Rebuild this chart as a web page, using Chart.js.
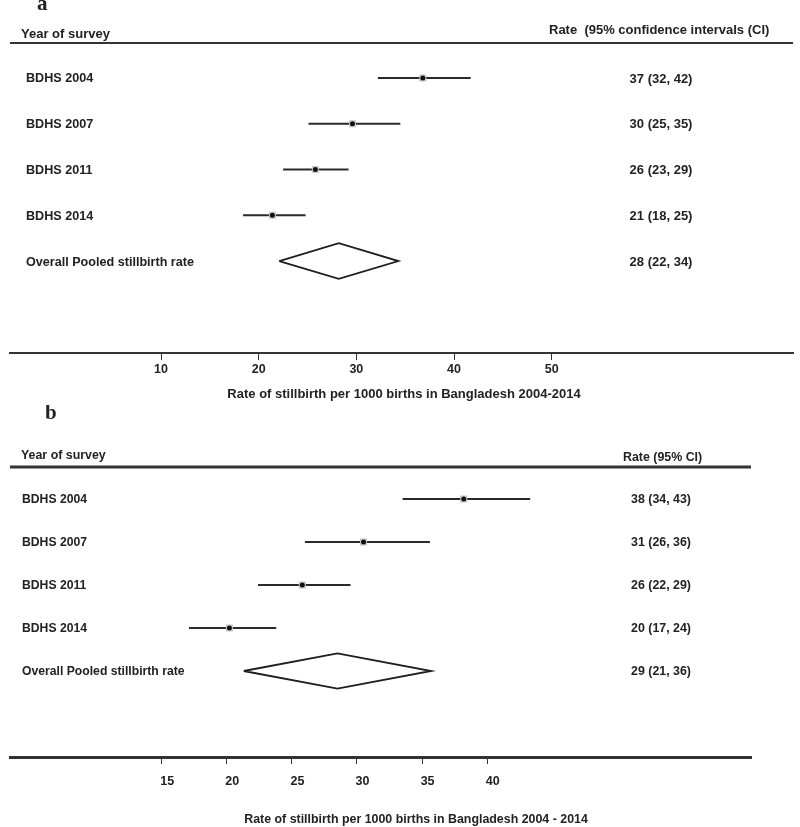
<!DOCTYPE html>
<html>
<head>
<meta charset="utf-8">
<script src="https://cdn.jsdelivr.net/npm/chart.js@4/dist/chart.umd.min.js"></script>
<style>
html,body{margin:0;padding:0;background:#fff;}
#wrap{position:relative;width:800px;height:827px;overflow:hidden;}
canvas{position:absolute;left:0;}
</style>
</head>
<body>
<div id="wrap">
<canvas id="chartA" width="800" height="405" style="top:0px"></canvas>
<canvas id="chartB" width="800" height="422" style="top:405px"></canvas>
</div>
<script>
// ---------- DATA ----------
const surveys = ['BDHS 2004', 'BDHS 2007', 'BDHS 2011', 'BDHS 2014'];
const pooledLabel = 'Overall Pooled stillbirth rate';

// Panel a
const rateA = [36.8, 29.6, 25.8, 21.4];
const lowA  = [32.2, 25.1, 22.5, 18.4];
const highA = [41.7, 34.5, 29.2, 24.8];
const pooledA = [28.2, 22.1, 34.3];          // estimate, lower, upper
const rateTextA = ['37 (32, 42)', '30 (25, 35)', '26 (23, 29)', '21 (18, 25)', '28 (22, 34)'];
const ticksA = [10, 20, 30, 40, 50];

// Panel b
const rateB = [38.2, 30.5, 25.8, 20.2];
const lowB  = [33.5, 26.0, 22.4, 17.1];
const highB = [43.3, 35.6, 29.5, 23.8];
const pooledB = [28.5, 21.3, 35.7];
const rateTextB = ['38 (34, 43)', '31 (26, 36)', '26 (22, 29)', '20 (17, 24)', '29 (21, 36)'];
const ticksB = [15, 20, 25, 30, 35, 40];

// ---------- RENDER ----------
const FAM = '"Liberation Sans", Arial, Helvetica, sans-serif';
const INK = '#222';

function makeForest(id, d, L) {
  const datasets = [];
  // CI lines
  d.rate.forEach((r, i) => {
    datasets.push({
      type: 'line', order: 3,
      data: [{x: d.low[i], y: i}, {x: d.high[i], y: i}],
      borderColor: '#2a2a2a', borderWidth: L.ciWidth,
      pointRadius: 0, showLine: true, fill: false, tension: 0
    });
  });
  // grey weight boxes
  datasets.push({
    type: 'scatter', order: 2,
    data: d.rate.map((r, i) => ({x: r, y: i})),
    pointStyle: 'rect', pointRadius: 5, backgroundColor: '#c8c8c8', borderWidth: 0
  });
  // black point estimates
  datasets.push({
    type: 'scatter', order: 1,
    data: d.rate.map((r, i) => ({x: r, y: i})),
    pointStyle: 'circle', pointRadius: 2.5, backgroundColor: '#111', borderWidth: 0
  });
  // pooled diamond
  const pr = d.rate.length;
  const h = L.diamondH;
  datasets.push({
    type: 'line', order: 3,
    data: [
      {x: d.pooled[1], y: pr}, {x: d.pooled[0], y: pr - h},
      {x: d.pooled[2], y: pr}, {x: d.pooled[0], y: pr + h},
      {x: d.pooled[1], y: pr}
    ],
    borderColor: '#1e1e1e', borderWidth: 1.8, pointRadius: 0,
    showLine: true, fill: false, tension: 0, borderJoinStyle: 'miter'
  });

  const textPlugin = {
    id: 'forestText' + id,
    afterDraw(chart) {
      const ctx = chart.ctx;
      const ca = chart.chartArea;
      const ys = chart.scales.y;
      ctx.save();
      // header rule
      ctx.strokeStyle = '#333';
      ctx.lineWidth = L.headWidth;
      ctx.beginPath();
      ctx.moveTo(ca.left, ca.top);
      ctx.lineTo(ca.right, ca.top);
      ctx.stroke();
      ctx.fillStyle = INK;
      // panel letter
      ctx.font = 'bold 21px "Liberation Serif", "Times New Roman", serif';
      ctx.textAlign = 'left';
      ctx.textBaseline = 'alphabetic';
      ctx.fillText(L.letter, L.letterX, L.letterY);
      // headers
      ctx.font = 'bold ' + L.fs + 'px ' + FAM;
      ctx.textBaseline = 'middle';
      ctx.fillText('Year of survey', L.headLeftX, L.headLeftY);
      ctx.fillText(L.rateHeader, L.headRightX, L.headRightY);
      // row labels and values
      const labels = d.labels.concat([pooledLabel]);
      labels.forEach((lab, i) => {
        const y = ys.getPixelForValue(i);
        ctx.font = 'bold ' + L.labelFs + 'px ' + FAM;
        ctx.textAlign = 'left';
        ctx.fillText(lab, L.labelX, y + 1);
        ctx.font = 'bold ' + L.valueFs + 'px ' + FAM;
        ctx.textAlign = 'center';
        ctx.fillText(d.rateText[i], L.valueX, y + 1);
      });
      // axis title
      ctx.font = 'bold ' + L.fs + 'px ' + FAM;
      ctx.textAlign = 'center';
      ctx.fillText(L.axisTitle, L.titleX, L.titleY);
      ctx.restore();
    }
  };

  return new Chart(document.getElementById(id), {
    type: 'scatter',
    data: {datasets},
    options: {
      responsive: false,
      animation: false,
      devicePixelRatio: 1,
      layout: {padding: {left: L.padL, right: L.padR, top: L.padT, bottom: 0}},
      plugins: {legend: {display: false}, tooltip: {enabled: false}},
      scales: {
        x: {
          type: 'linear', position: 'bottom', min: L.xmin, max: L.xmax,
          afterBuildTicks: s => { s.ticks = d.ticks.map(v => ({value: v})); },
          afterFit: s => { s.height = L.axisH; },
          border: {display: true, color: '#333', width: L.axisWidth},
          grid: {display: true, drawOnChartArea: false, drawTicks: true, tickLength: 7, color: '#333', lineWidth: 1},
          ticks: {
            autoSkip: false, maxRotation: 0, padding: L.tickPad, labelOffset: L.labelOffset,
            color: INK, font: {family: FAM, size: 12.5, weight: 'bold'}
          }
        },
        y: {
          type: 'linear', display: false, reverse: true, min: L.ymin, max: L.ymax
        }
      }
    },
    plugins: [textPlugin]
  });
}

makeForest('chartA',
  {labels: surveys, rate: rateA, low: lowA, high: highA, pooled: pooledA, rateText: rateTextA, ticks: ticksA},
  {padL: 10, padR: 7, padT: 43, axisH: 52, xmin: -5.46, xmax: 74.7, ymin: -0.765, ymax: 6.01,
   ciWidth: 2, headWidth: 1.8, axisWidth: 2, diamondH: 0.39, tickPad: 2, labelOffset: 0,
   fs: 13, labelFs: 12.6, valueFs: 13,
   letter: 'a', letterX: 37, letterY: 10,
   headLeftX: 21, headLeftY: 34, rateHeader: 'Rate  (95% confidence intervals (CI)', headRightX: 549, headRightY: 30,
   labelX: 26, valueX: 661,
   axisTitle: 'Rate of stillbirth per 1000 births in Bangladesh 2004-2014', titleX: 404, titleY: 394});

makeForest('chartB',
  {labels: surveys, rate: rateB, low: lowB, high: highB, pooled: pooledB, rateText: rateTextB, ticks: ticksB},
  {padL: 10, padR: 49, padT: 62, axisH: 70, xmin: 3.35, xmax: 60.26, ymin: -0.744, ymax: 6.0,
   ciWidth: 2, headWidth: 3, axisWidth: 3, diamondH: 0.41, tickPad: 10, labelOffset: 5.5,
   fs: 12.4, labelFs: 12.2, valueFs: 12.4,
   letter: 'b', letterX: 45, letterY: 14,
   headLeftX: 21, headLeftY: 51, rateHeader: 'Rate (95% CI)', headRightX: 623, headRightY: 53,
   labelX: 22, valueX: 661,
   axisTitle: 'Rate of stillbirth per 1000 births in Bangladesh 2004 - 2014', titleX: 416, titleY: 415});
</script>
</body>
</html>
